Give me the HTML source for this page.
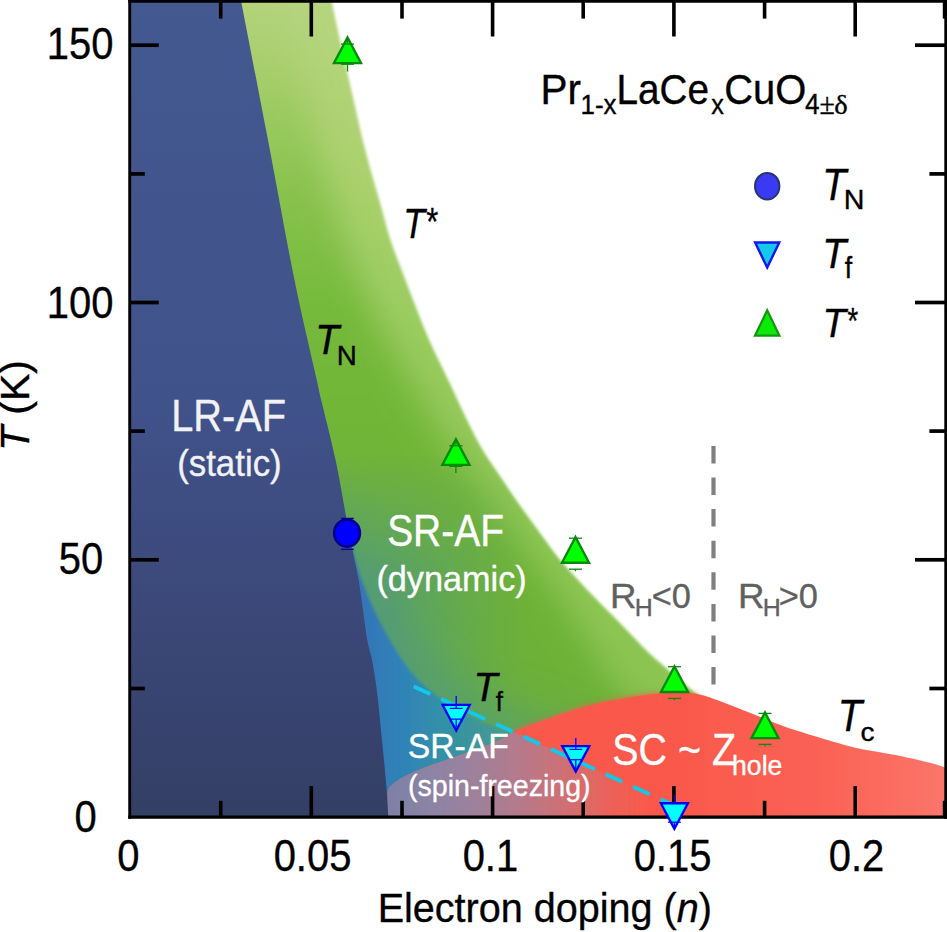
<!DOCTYPE html>
<html><head><meta charset="utf-8"><title>Phase diagram</title>
<style>
html,body{margin:0;padding:0;background:#fff;}
text{stroke-width:0.35px;paint-order:stroke fill;}
body{width:947px;height:932px;overflow:hidden;position:relative;font-family:"Liberation Sans",sans-serif;}
</style></head><body>
<svg width="947" height="932" viewBox="0 0 947 932" style="position:absolute;left:0;top:0" font-family="Liberation Sans, sans-serif">
<defs>
<clipPath id="plot"><rect x="129.9" y="1.3" width="815.9" height="815.8"/></clipPath>
<linearGradient id="gBlue" gradientUnits="userSpaceOnUse" x1="0" y1="0" x2="0" y2="817">
 <stop offset="0" stop-color="#43598f"/><stop offset="0.5" stop-color="#40528a"/><stop offset="0.74" stop-color="#3b4879"/><stop offset="1" stop-color="#343f65"/>
</linearGradient>
<linearGradient id="gGreenL" gradientUnits="userSpaceOnUse" x1="0" y1="0" x2="0" y2="817">
 <stop offset="0" stop-color="#b7d47e"/><stop offset="0.18" stop-color="#add271"/><stop offset="0.4" stop-color="#9bcc60"/><stop offset="0.6" stop-color="#90c756"/><stop offset="1" stop-color="#8ac450"/>
</linearGradient>
<linearGradient id="gCoreFade" gradientUnits="userSpaceOnUse" x1="0" y1="-20" x2="0" y2="320">
 <stop offset="0" stop-color="#fff" stop-opacity="0.03"/><stop offset="0.25" stop-color="#fff" stop-opacity="0.22"/><stop offset="0.6" stop-color="#fff" stop-opacity="0.68"/><stop offset="1" stop-color="#fff" stop-opacity="1"/>
</linearGradient>
<linearGradient id="gCore" gradientUnits="userSpaceOnUse" x1="0" y1="0" x2="0" y2="817">
 <stop offset="0" stop-color="#84c24a"/><stop offset="0.2" stop-color="#7cbd42"/><stop offset="0.4" stop-color="#74b83a"/><stop offset="0.7" stop-color="#6eb238"/><stop offset="1" stop-color="#6cb038"/>
</linearGradient>
<mask id="mCore" maskUnits="userSpaceOnUse" x="0" y="0" width="947" height="932"><rect x="0" y="0" width="947" height="932" fill="url(#gCoreFade)"/></mask>
<linearGradient id="gRed" gradientUnits="userSpaceOnUse" x1="388" y1="0" x2="650" y2="0">
 <stop offset="0.008" stop-color="#7d81a5"/><stop offset="0.160" stop-color="#8c83a5"/><stop offset="0.313" stop-color="#9c819c"/><stop offset="0.466" stop-color="#b07b8e"/><stop offset="0.618" stop-color="#c6737c"/><stop offset="0.752" stop-color="#dc6a68"/><stop offset="0.866" stop-color="#ee6056"/><stop offset="1.000" stop-color="#fa594b"/>
</linearGradient>
<linearGradient id="gRedR" gradientUnits="userSpaceOnUse" x1="680" y1="0" x2="947" y2="0">
 <stop offset="0" stop-color="#fff" stop-opacity="0"/><stop offset="0.5" stop-color="#fff" stop-opacity="0.05"/><stop offset="1" stop-color="#fff" stop-opacity="0.17"/>
</linearGradient>
<linearGradient id="gTeal" gradientUnits="userSpaceOnUse" x1="360" y1="0" x2="560" y2="0">
 <stop offset="0" stop-color="#3474b8"/><stop offset="0.2" stop-color="#2f82b8"/><stop offset="0.4" stop-color="#3090a8"/><stop offset="0.6" stop-color="#3e9698"/><stop offset="0.76" stop-color="#489b90" stop-opacity="0.92"/><stop offset="0.9" stop-color="#5aa470" stop-opacity="0.5"/><stop offset="1" stop-color="#6aaa4a" stop-opacity="0"/>
</linearGradient>
<filter id="b1" filterUnits="userSpaceOnUse" x="0" y="-20" width="967" height="972"><feGaussianBlur stdDeviation="0.7"/></filter>
<filter id="b3" filterUnits="userSpaceOnUse" x="0" y="-20" width="967" height="972"><feGaussianBlur stdDeviation="3"/></filter>
<filter id="b6" filterUnits="userSpaceOnUse" x="0" y="-20" width="967" height="972"><feGaussianBlur stdDeviation="6"/></filter>
<filter id="b10" filterUnits="userSpaceOnUse" x="0" y="-20" width="967" height="972"><feGaussianBlur stdDeviation="16"/></filter>
<filter id="b35" filterUnits="userSpaceOnUse" x="0" y="-20" width="967" height="972"><feGaussianBlur stdDeviation="35"/></filter>
<filter id="b15" filterUnits="userSpaceOnUse" x="0" y="-20" width="967" height="972"><feGaussianBlur stdDeviation="1.5"/></filter>
<filter id="b25" filterUnits="userSpaceOnUse" x="0" y="-20" width="967" height="972"><feGaussianBlur stdDeviation="22"/></filter>
<linearGradient id="gTintH" gradientUnits="userSpaceOnUse" x1="345" y1="0" x2="530" y2="0">
 <stop offset="0" stop-color="#4c9589" stop-opacity="0.74"/><stop offset="0.3" stop-color="#4c9589" stop-opacity="0.52"/><stop offset="0.57" stop-color="#4c9589" stop-opacity="0.3"/><stop offset="0.84" stop-color="#4c9589" stop-opacity="0.09"/><stop offset="1" stop-color="#4c9589" stop-opacity="0"/>
</linearGradient>
<linearGradient id="gTintV" gradientUnits="userSpaceOnUse" x1="0" y1="455" x2="0" y2="570">
 <stop offset="0" stop-color="#fff" stop-opacity="0"/><stop offset="1" stop-color="#fff" stop-opacity="1"/>
</linearGradient>
<mask id="mTint" maskUnits="userSpaceOnUse" x="0" y="0" width="947" height="932"><rect x="0" y="0" width="947" height="932" fill="url(#gTintV)"/></mask>
<linearGradient id="gGlowX" gradientUnits="userSpaceOnUse" x1="655" y1="0" x2="712" y2="0"><stop offset="0" stop-color="#fff" stop-opacity="1"/><stop offset="1" stop-color="#fff" stop-opacity="0"/></linearGradient>
<mask id="mGlow" maskUnits="userSpaceOnUse" x="0" y="0" width="947" height="932"><rect x="0" y="0" width="947" height="932" fill="url(#gGlowX)"/></mask>
<filter id="b16" filterUnits="userSpaceOnUse" x="0" y="-20" width="967" height="972"><feGaussianBlur stdDeviation="16"/></filter>
</defs>
<rect width="947" height="932" fill="#fff"/>
<g clip-path="url(#plot)">
<path d="M331.0,-2.0 C332.1,3.3 335.2,18.2 337.8,30.0 C340.4,41.8 343.8,56.8 346.5,69.0 C349.2,81.2 351.7,91.7 354.3,103.0 C356.9,114.3 359.2,125.5 362.0,137.0 C364.8,148.5 368.0,160.5 371.2,172.0 C374.4,183.5 377.8,194.7 381.0,206.0 C384.2,217.3 386.8,228.6 390.5,240.0 C394.2,251.4 399.0,262.9 403.3,274.3 C407.6,285.8 412.0,297.2 416.5,308.7 C421.0,320.1 425.2,331.1 430.5,343.0 C435.8,354.9 442.8,368.6 448.2,380.0 C453.6,391.4 458.2,401.7 463.0,411.7 C467.8,421.7 472.7,431.9 477.0,440.0 C481.3,448.1 484.7,453.3 489.0,460.0 C493.3,466.7 498.1,473.3 502.6,480.0 C507.1,486.7 511.4,493.3 516.0,500.0 C520.6,506.7 525.7,513.3 530.5,520.0 C535.3,526.7 540.1,533.3 545.0,540.0 C549.9,546.7 554.6,553.3 560.1,560.0 C565.6,566.7 571.9,573.3 578.0,580.0 C584.1,586.7 590.5,593.3 597.0,600.0 C603.5,606.7 608.8,611.7 617.0,620.0 C625.2,628.3 638.8,642.9 646.0,650.0 C653.2,657.1 654.3,657.8 660.0,662.8 C665.7,667.8 673.7,674.8 680.0,680.0 C686.3,685.2 689.3,689.0 697.6,694.3 C705.9,699.6 724.6,709.0 730.0,712.0 L780,740 L780,830 L130,830 L130,-5 Z" fill="url(#gGreenL)" filter="url(#b15)"/>
<clipPath id="cg"><path d="M331.0,-2.0 C332.1,3.3 335.2,18.2 337.8,30.0 C340.4,41.8 343.8,56.8 346.5,69.0 C349.2,81.2 351.7,91.7 354.3,103.0 C356.9,114.3 359.2,125.5 362.0,137.0 C364.8,148.5 368.0,160.5 371.2,172.0 C374.4,183.5 377.8,194.7 381.0,206.0 C384.2,217.3 386.8,228.6 390.5,240.0 C394.2,251.4 399.0,262.9 403.3,274.3 C407.6,285.8 412.0,297.2 416.5,308.7 C421.0,320.1 425.2,331.1 430.5,343.0 C435.8,354.9 442.8,368.6 448.2,380.0 C453.6,391.4 458.2,401.7 463.0,411.7 C467.8,421.7 472.7,431.9 477.0,440.0 C481.3,448.1 484.7,453.3 489.0,460.0 C493.3,466.7 498.1,473.3 502.6,480.0 C507.1,486.7 511.4,493.3 516.0,500.0 C520.6,506.7 525.7,513.3 530.5,520.0 C535.3,526.7 540.1,533.3 545.0,540.0 C549.9,546.7 554.6,553.3 560.1,560.0 C565.6,566.7 571.9,573.3 578.0,580.0 C584.1,586.7 590.5,593.3 597.0,600.0 C603.5,606.7 608.8,611.7 617.0,620.0 C625.2,628.3 638.8,642.9 646.0,650.0 C653.2,657.1 654.3,657.8 660.0,662.8 C665.7,667.8 673.7,674.8 680.0,680.0 C686.3,685.2 689.3,689.0 697.6,694.3 C705.9,699.6 724.6,709.0 730.0,712.0 L780,740 L780,830 L130,830 L130,-5 Z"/></clipPath>
<g clip-path="url(#cg)"><g mask="url(#mCore)"><path d="M285.0,-2.0 C286.1,3.3 289.2,18.2 291.8,30.0 C294.4,41.8 297.8,56.8 300.5,69.0 C303.2,81.2 305.7,91.7 308.3,103.0 C310.9,114.3 313.2,125.5 316.0,137.0 C318.8,148.5 322.0,160.5 325.2,172.0 C328.4,183.5 331.8,194.7 335.0,206.0 C338.2,217.3 340.8,228.6 344.5,240.0 C348.2,251.4 352.8,262.9 357.3,274.3 C361.8,285.8 366.1,297.2 371.3,308.7 C376.5,320.1 382.1,331.1 388.5,343.0 C394.9,354.9 403.2,368.6 409.7,380.0 C416.2,391.4 421.7,401.7 427.4,411.7 C433.2,421.7 439.0,431.9 444.1,440.0 C449.1,448.1 452.9,453.3 457.6,460.0 C462.4,466.7 467.5,473.3 472.5,480.0 C477.4,486.7 482.0,493.3 487.1,500.0 C492.2,506.7 497.6,513.3 502.8,520.0 C508.1,526.7 513.2,533.3 518.6,540.0 C523.9,546.7 530.0,553.3 534.9,560.0 C539.8,566.7 543.7,573.3 548.1,580.0 C552.6,586.7 556.8,593.3 561.4,600.0 C566.0,606.7 570.5,611.7 575.7,620.0 C581.0,628.3 588.7,642.9 592.9,650.0 C597.0,657.1 597.5,657.8 600.7,662.8 C604.0,667.8 608.7,674.8 612.6,680.0 C616.4,685.2 617.9,689.0 623.9,694.3 C629.9,699.6 644.4,709.0 648.5,712.0 L760,740 L760,830 L130,830 L130,-5 Z" fill="url(#gCore)" filter="url(#b10)"/></g></g>
<g clip-path="url(#cg)"><rect x="330" y="440" width="230" height="400" fill="url(#gTintH)" mask="url(#mTint)"/></g>
<g clip-path="url(#cg)"><path d="M361.5,580.0 C363.5,584.8 368.5,598.2 373.5,608.7 C378.5,619.2 384.5,631.6 391.5,643.0 C398.5,654.4 406.4,667.2 415.5,677.0 C424.6,686.8 435.1,694.7 446.0,702.0 C456.9,709.3 469.1,715.7 480.7,721.0 C492.3,726.3 502.3,729.5 515.5,734.0 C528.7,738.5 545.9,742.7 560.0,748.0 C574.1,753.3 593.3,763.0 600.0,766.0" fill="none" stroke="#4c9589" stroke-opacity="0.55" stroke-width="44" stroke-linecap="butt" filter="url(#b25)"/></g>
<path d="M348.5,530.0 C349.4,534.2 351.8,546.7 354.0,555.0 C356.2,563.3 358.2,571.0 361.5,580.0 C364.8,589.0 368.5,598.2 373.5,608.7 C378.5,619.2 384.5,631.6 391.5,643.0 C398.5,654.4 406.4,667.2 415.5,677.0 C424.6,686.8 435.1,694.7 446.0,702.0 C456.9,709.3 469.1,715.7 480.7,721.0 C492.3,726.3 502.3,729.5 515.5,734.0 C528.7,738.5 552.6,745.7 560.0,748.0 L560,830 L340,830 L340,535 Z" fill="url(#gTeal)" filter="url(#b15)"/>
<clipPath id="cDome"><path d="M386.9,820.0 C387.0,817.3 387.1,804.3 387.4,800.0 C387.7,795.7 387.1,791.0 389.0,788.0 C390.9,785.0 397.8,780.3 402.0,777.8 C406.2,775.3 414.4,771.6 420.3,769.2 C426.2,766.8 439.2,762.4 446.0,760.0 C452.8,757.6 464.6,753.5 471.4,751.0 C478.2,748.5 490.5,744.3 496.7,741.5 C502.9,738.7 511.6,732.9 518.0,730.0 C524.4,727.1 537.7,722.6 545.0,720.0 C552.3,717.4 565.7,712.8 573.0,710.5 C580.3,708.2 591.5,704.9 600.0,703.0 C608.5,701.1 627.9,697.6 636.6,696.3 C645.3,695.0 657.9,693.4 665.0,693.0 C672.1,692.6 684.0,692.4 690.0,693.0 C696.0,693.6 702.5,695.0 710.0,697.5 C717.5,700.0 736.9,707.7 746.6,711.5 C756.3,715.3 773.2,722.5 783.0,726.0 C792.8,729.5 810.2,734.8 820.0,737.7 C829.8,740.6 845.8,745.6 856.5,748.0 C867.2,750.4 890.2,753.9 900.0,755.9 C909.8,757.9 923.6,761.1 930.0,762.8 C936.4,764.5 945.6,767.7 948.0,768.5 L948,830 L386,830 Z"/></clipPath>
<clipPath id="cTf"><polygon points="380,671.0 700,817.2 700,830 380,830"/></clipPath>
<clipPath id="cTfAbove"><polygon points="480,716.7 760,844.7 760,600 480,600"/></clipPath>
<g clip-path="url(#cTfAbove)" mask="url(#mGlow)"><path d="M386.9,820.0 C387.0,817.3 387.1,804.3 387.4,800.0 C387.7,795.7 387.1,791.0 389.0,788.0 C390.9,785.0 397.8,780.3 402.0,777.8 C406.2,775.3 414.4,771.6 420.3,769.2 C426.2,766.8 439.2,762.4 446.0,760.0 C452.8,757.6 464.6,753.5 471.4,751.0 C478.2,748.5 490.5,744.3 496.7,741.5 C502.9,738.7 511.6,732.9 518.0,730.0 C524.4,727.1 537.7,722.6 545.0,720.0 C552.3,717.4 565.7,712.8 573.0,710.5 C580.3,708.2 591.5,704.9 600.0,703.0 C608.5,701.1 627.9,697.6 636.6,696.3 C645.3,695.0 657.9,693.4 665.0,693.0 C672.1,692.6 684.0,692.4 690.0,693.0 C696.0,693.6 702.5,695.0 710.0,697.5 C717.5,700.0 736.9,707.7 746.6,711.5 C756.3,715.3 773.2,722.5 783.0,726.0 C792.8,729.5 810.2,734.8 820.0,737.7 C829.8,740.6 845.8,745.6 856.5,748.0 C867.2,750.4 890.2,753.9 900.0,755.9 C909.8,757.9 923.6,761.1 930.0,762.8 C936.4,764.5 945.6,767.7 948.0,768.5 L948,830 L386,830 Z" fill="#fa594b" opacity="0.9" filter="url(#b3)"/></g>
<g filter="url(#b1)"><path d="M386.9,820.0 C387.0,817.3 387.1,804.3 387.4,800.0 C387.7,795.7 387.1,791.0 389.0,788.0 C390.9,785.0 397.8,780.3 402.0,777.8 C406.2,775.3 414.4,771.6 420.3,769.2 C426.2,766.8 439.2,762.4 446.0,760.0 C452.8,757.6 464.6,753.5 471.4,751.0 C478.2,748.5 490.5,744.3 496.7,741.5 C502.9,738.7 511.6,732.9 518.0,730.0 C524.4,727.1 537.7,722.6 545.0,720.0 C552.3,717.4 565.7,712.8 573.0,710.5 C580.3,708.2 591.5,704.9 600.0,703.0 C608.5,701.1 627.9,697.6 636.6,696.3 C645.3,695.0 657.9,693.4 665.0,693.0 C672.1,692.6 684.0,692.4 690.0,693.0 C696.0,693.6 702.5,695.0 710.0,697.5 C717.5,700.0 736.9,707.7 746.6,711.5 C756.3,715.3 773.2,722.5 783.0,726.0 C792.8,729.5 810.2,734.8 820.0,737.7 C829.8,740.6 845.8,745.6 856.5,748.0 C867.2,750.4 890.2,753.9 900.0,755.9 C909.8,757.9 923.6,761.1 930.0,762.8 C936.4,764.5 945.6,767.7 948.0,768.5 L948,830 L386,830 Z" fill="#fa594b"/><path d="M386.9,820.0 C387.0,817.3 387.1,804.3 387.4,800.0 C387.7,795.7 387.1,791.0 389.0,788.0 C390.9,785.0 397.8,780.3 402.0,777.8 C406.2,775.3 414.4,771.6 420.3,769.2 C426.2,766.8 439.2,762.4 446.0,760.0 C452.8,757.6 464.6,753.5 471.4,751.0 C478.2,748.5 490.5,744.3 496.7,741.5 C502.9,738.7 511.6,732.9 518.0,730.0 C524.4,727.1 537.7,722.6 545.0,720.0 C552.3,717.4 565.7,712.8 573.0,710.5 C580.3,708.2 591.5,704.9 600.0,703.0 C608.5,701.1 627.9,697.6 636.6,696.3 C645.3,695.0 657.9,693.4 665.0,693.0 C672.1,692.6 684.0,692.4 690.0,693.0 C696.0,693.6 702.5,695.0 710.0,697.5 C717.5,700.0 736.9,707.7 746.6,711.5 C756.3,715.3 773.2,722.5 783.0,726.0 C792.8,729.5 810.2,734.8 820.0,737.7 C829.8,740.6 845.8,745.6 856.5,748.0 C867.2,750.4 890.2,753.9 900.0,755.9 C909.8,757.9 923.6,761.1 930.0,762.8 C936.4,764.5 945.6,767.7 948.0,768.5 L948,830 L386,830 Z" fill="url(#gRedR)"/></g>
<g clip-path="url(#cDome)"><g clip-path="url(#cTf)"><rect x="380" y="600" width="330" height="230" fill="url(#gRed)" filter="url(#b15)"/></g></g>
<path d="M240.5,-2.0 C245.1,21.7 259.0,93.0 268.0,140.0 C277.0,187.0 286.4,240.2 294.5,280.0 C302.6,319.8 312.1,358.7 316.5,378.7 C320.9,398.7 318.0,386.4 321.2,400.0 C324.4,413.6 331.4,440.0 335.6,460.0 C339.9,480.0 343.9,505.0 346.7,520.0 C349.5,535.0 350.5,540.0 352.5,550.0 C354.5,560.0 356.9,570.0 358.7,580.0 C360.4,590.0 361.6,600.0 363.0,610.0 C364.4,620.0 365.8,631.7 367.3,640.0 C368.8,648.3 370.4,651.7 372.0,660.0 C373.6,668.3 375.1,676.7 376.8,690.0 C378.5,703.3 380.4,723.7 382.0,740.0 C383.6,756.3 385.4,774.7 386.5,788.0 C387.6,801.3 388.2,814.7 388.5,820.0 L120,830 L120,-5 Z" fill="url(#gBlue)"/>
<line x1="413.7" y1="686.4" x2="671" y2="804" stroke="#10c9ec" stroke-width="3.9" stroke-dasharray="18.3 11.85"/>
</g>
<line x1="713.5" y1="445.9" x2="713.5" y2="686" stroke="#808080" stroke-width="4.2" stroke-dasharray="17.5 14.1"/>
<g stroke="#000" fill="none">
<line x1="129.7" y1="0" x2="129.7" y2="818.8" stroke-width="2.9"/>
<line x1="945.8" y1="0" x2="945.8" y2="818.8" stroke-width="3.0"/>
<line x1="128.3" y1="1.2" x2="947" y2="1.2" stroke-width="3.2"/>
<line x1="128.3" y1="817.1" x2="947" y2="817.1" stroke-width="3.4"/>
</g>
<g stroke="#000" stroke-width="3.6">
<line x1="944.6" y1="800.8" x2="944.6" y2="817.1"/><line x1="944.6" y1="1.2" x2="944.6" y2="18.6"/>
<line x1="220.7" y1="800.8" x2="220.7" y2="817.1"/>
<line x1="220.7" y1="1.2" x2="220.7" y2="18.6"/>
<line x1="311.3" y1="786.1" x2="311.3" y2="817.1"/>
<line x1="311.3" y1="1.2" x2="311.3" y2="36.5"/>
<line x1="402.0" y1="800.8" x2="402.0" y2="817.1"/>
<line x1="402.0" y1="1.2" x2="402.0" y2="18.6"/>
<line x1="492.6" y1="786.1" x2="492.6" y2="817.1"/>
<line x1="492.6" y1="1.2" x2="492.6" y2="36.5"/>
<line x1="583.2" y1="800.8" x2="583.2" y2="817.1"/>
<line x1="583.2" y1="1.2" x2="583.2" y2="18.6"/>
<line x1="673.9" y1="786.1" x2="673.9" y2="817.1"/>
<line x1="673.9" y1="1.2" x2="673.9" y2="36.5"/>
<line x1="764.6" y1="800.8" x2="764.6" y2="817.1"/>
<line x1="764.6" y1="1.2" x2="764.6" y2="18.6"/>
<line x1="855.2" y1="786.1" x2="855.2" y2="817.1"/>
<line x1="855.2" y1="1.2" x2="855.2" y2="36.5"/>
</g><g stroke="#000" stroke-width="3.7">
<line x1="129.7" y1="688.5" x2="144.8" y2="688.5"/>
<line x1="929.4" y1="688.5" x2="945.7" y2="688.5"/>
<line x1="129.7" y1="559.8" x2="158.8" y2="559.8"/>
<line x1="915.0" y1="559.8" x2="945.7" y2="559.8"/>
<line x1="129.7" y1="431.1" x2="144.8" y2="431.1"/>
<line x1="929.4" y1="431.1" x2="945.7" y2="431.1"/>
<line x1="129.7" y1="302.5" x2="158.8" y2="302.5"/>
<line x1="915.0" y1="302.5" x2="945.7" y2="302.5"/>
<line x1="129.7" y1="173.9" x2="144.8" y2="173.9"/>
<line x1="929.4" y1="173.9" x2="945.7" y2="173.9"/>
<line x1="129.7" y1="45.2" x2="158.8" y2="45.2"/>
<line x1="915.0" y1="45.2" x2="945.7" y2="45.2"/>
</g>
<text transform="translate(117.14,870.74) scale(0.8880,1)" font-size="45.00" fill="#000" stroke="#000">0</text>
<text transform="translate(273.64,870.74) scale(0.8880,1)" font-size="45.00" fill="#000" stroke="#000">0.05</text>
<text transform="translate(462.64,870.74) scale(0.8880,1)" font-size="45.00" fill="#000" stroke="#000">0.1</text>
<text transform="translate(633.64,870.74) scale(0.8880,1)" font-size="45.00" fill="#000" stroke="#000">0.15</text>
<text transform="translate(828.74,870.74) scale(0.8880,1)" font-size="45.00" fill="#000" stroke="#000">0.2</text>
<text transform="translate(46.69,59.14) scale(0.8880,1)" font-size="45.00" fill="#000" stroke="#000">150</text>
<text transform="translate(46.79,317.54) scale(0.8880,1)" font-size="45.00" fill="#000" stroke="#000">100</text>
<text transform="translate(58.70,573.54) scale(0.8880,1)" font-size="45.00" fill="#000" stroke="#000">50</text>
<text transform="translate(74.54,831.89) scale(0.8880,1)" font-size="45.00" fill="#000" stroke="#000">0</text>
<text transform="translate(377.65,921.80) scale(0.9650,1)" font-size="41.00" fill="#000" stroke="#000">Electron doping (</text>
<text transform="translate(676.77,921.80) scale(0.9650,1)" font-size="41.00" font-style="italic" fill="#000" stroke="#000">n</text>
<text transform="translate(698.77,921.80) scale(0.9650,1)" font-size="41.00" fill="#000" stroke="#000">)</text>
<g transform="translate(28.6,447.4) rotate(-90)">
<text transform="translate(-3.68,0.00) scale(1.0000,1)" font-size="41.00" font-style="italic" fill="#000" stroke="#000">T</text>
<text transform="translate(32.75,0.00) scale(1.0000,1)" font-size="41.00" fill="#000" stroke="#000">(K)</text>
</g>
<g stroke="#068a0a" fill="none"><polygon points="347.50,37.51 333.95,63.12 361.05,63.12" fill="#00ff00" stroke-width="2.35" stroke-linejoin="miter"/><line x1="341.0" y1="44.1" x2="354.0" y2="44.1" stroke-width="1.3"/><line x1="341.0" y1="64.2" x2="354.0" y2="64.2" stroke-width="1.3"/><line x1="347.5" y1="38.5" x2="347.5" y2="44.1" stroke-width="1.3"/><line x1="347.5" y1="64" x2="347.5" y2="71.5" stroke-width="1.3"/></g>
<g stroke="#068a0a" fill="none"><polygon points="455.90,439.31 442.35,464.93 469.45,464.93" fill="#00ff00" stroke-width="2.35" stroke-linejoin="miter"/><line x1="449.2" y1="445.8" x2="462.59999999999997" y2="445.8" stroke-width="1.3"/><line x1="449.2" y1="466.3" x2="462.59999999999997" y2="466.3" stroke-width="1.3"/><line x1="455.9" y1="440.3" x2="455.9" y2="445.8" stroke-width="1.3"/><line x1="455.9" y1="466" x2="455.9" y2="473.1" stroke-width="1.3"/></g>
<g stroke="#068a0a" fill="none"><polygon points="575.50,537.11 561.95,562.73 589.05,562.73" fill="#00ff00" stroke-width="2.35" stroke-linejoin="miter"/><line x1="569.0" y1="538.2" x2="582.0" y2="538.2" stroke-width="1.3"/><line x1="569.0" y1="569.2" x2="582.0" y2="569.2" stroke-width="1.3"/><line x1="575.5" y1="569.2" x2="575.5" y2="571.2" stroke-width="1.3"/></g>
<g stroke="#068a0a" fill="none"><polygon points="674.50,666.41 660.95,692.02 688.05,692.02" fill="#00ff00" stroke-width="2.35" stroke-linejoin="miter"/><line x1="668.0" y1="666.7" x2="681.0" y2="666.7" stroke-width="1.3"/><line x1="668.0" y1="698.4" x2="681.0" y2="698.4" stroke-width="1.3"/><line x1="674.5" y1="698.4" x2="674.5" y2="700.2" stroke-width="1.3"/></g>
<g stroke="#068a0a" fill="none"><polygon points="765.00,712.51 751.45,738.12 778.55,738.12" fill="#00ff00" stroke-width="2.35" stroke-linejoin="miter"/><line x1="758.5" y1="713.4" x2="771.5" y2="713.4" stroke-width="1.3"/><line x1="758.5" y1="744.4" x2="771.5" y2="744.4" stroke-width="1.3"/><line x1="765.0" y1="744.4" x2="765.0" y2="746.2" stroke-width="1.3"/></g>
<g stroke="#0000ff" fill="none"><polygon points="456.20,730.54 442.66,704.95 469.74,704.95" fill="#00ffff" stroke-width="2.3" stroke-linejoin="miter"/><line x1="449.7" y1="708.4" x2="462.7" y2="708.4" stroke-width="1.2"/><line x1="451.0" y1="719.1" x2="461.4" y2="719.1" stroke-width="1.2"/><line x1="456.2" y1="696.1" x2="456.2" y2="708.4" stroke-width="1.3"/><line x1="456.2" y1="719.1" x2="456.2" y2="727.5" stroke-width="1.3"/></g>
<g stroke="#0000ff" fill="none"><polygon points="575.80,771.64 562.26,746.05 589.34,746.05" fill="#00ffff" stroke-width="2.3" stroke-linejoin="miter"/><line x1="569.4" y1="749.4" x2="582.1999999999999" y2="749.4" stroke-width="1.2"/><line x1="570.5999999999999" y1="759.7" x2="581.0" y2="759.7" stroke-width="1.2"/><line x1="575.8" y1="738.1" x2="575.8" y2="749.4" stroke-width="1.3"/><line x1="575.8" y1="759.7" x2="575.8" y2="769" stroke-width="1.3"/></g>
<g stroke="#0000ff" fill="none"><polygon points="674.40,828.84 660.86,803.25 687.94,803.25" fill="#00ffff" stroke-width="2.3" stroke-linejoin="miter"/><line x1="667.9" y1="822.2" x2="680.9" y2="822.2" stroke-width="1.2"/><line x1="674.4" y1="794.8" x2="674.4" y2="803" stroke-width="1.3"/><line x1="674.4" y1="822.2" x2="674.4" y2="826" stroke-width="1.3"/></g>
<g stroke="#00008c" stroke-width="1.3"><line x1="341.2" y1="518.4" x2="353.8" y2="518.4"/><line x1="341.2" y1="549.3" x2="353.8" y2="549.3"/></g>
<ellipse cx="347.05" cy="533.1" rx="12.85" ry="13.6" fill="#0000ff" stroke="#00008c" stroke-width="2.6"/>
<ellipse cx="767.2" cy="186.2" rx="12.2" ry="13.3" fill="#3a3af4" stroke="#26366e" stroke-width="2"/>
<g stroke="#1414f0" fill="none"><polygon points="767.20,267.54 755.11,242.50 779.29,242.50" fill="#14c8ec" stroke-width="2.4" stroke-linejoin="miter"/></g>
<g stroke="#149614" fill="none"><polygon points="767.20,310.33 754.95,335.70 779.45,335.70" fill="#0ceb08" stroke-width="2.2" stroke-linejoin="miter"/></g>
<text transform="translate(540.58,103.60) scale(0.9734,1)" font-size="41.60" fill="#000" stroke="#000">Pr</text>
<text transform="translate(580.52,113.50) scale(0.9438,1)" font-size="27.50" fill="#000" stroke="#000">1-x</text>
<text transform="translate(616.43,103.69) scale(0.9300,1)" font-size="41.60" fill="#000" stroke="#000">LaCe</text>
<text transform="translate(711.32,113.50) scale(0.9204,1)" font-size="27.50" fill="#000" stroke="#000">x</text>
<text transform="translate(724.27,104.09) scale(0.9603,1)" font-size="41.60" fill="#000" stroke="#000">CuO</text>
<text transform="translate(804.90,114.10) scale(0.9102,1)" font-size="28.78" fill="#000" stroke="#000">4</text>
<text transform="translate(819.44,114.10) scale(0.9339,1)" font-size="29.91" font-family="Liberation Serif" fill="#000" stroke="#000">±</text>
<text transform="translate(834.23,114.04) scale(1.0530,1)" font-size="27.10" font-family="Liberation Serif" fill="#000" stroke="#000">δ</text>
<text transform="translate(822.37,200.10) scale(0.9044,1)" font-size="43.46" font-style="italic" fill="#000" stroke="#000">T</text>
<text transform="translate(843.65,209.30) scale(1.0652,1)" font-size="26.89" fill="#000" stroke="#000">N</text>
<text transform="translate(822.37,268.30) scale(0.9198,1)" font-size="42.73" font-style="italic" fill="#000" stroke="#000">T</text>
<text transform="translate(844.82,278.00) scale(0.9361,1)" font-size="28.61" fill="#000" stroke="#000">f</text>
<text transform="translate(822.46,336.80) scale(0.9206,1)" font-size="41.57" font-style="italic" fill="#000" stroke="#000">T</text>
<text transform="translate(846.18,334.07) scale(0.7367,1)" font-size="37.60" font-style="italic" fill="#000" stroke="#000">*</text>
<text transform="translate(403.21,237.90) scale(0.8367,1)" font-size="42.44" font-style="italic" fill="#000" stroke="#000">T</text>
<text transform="translate(425.00,235.16) scale(0.8003,1)" font-size="38.45" font-style="italic" fill="#000" stroke="#000">*</text>
<text transform="translate(315.18,353.70) scale(0.9348,1)" font-size="41.86" font-style="italic" fill="#000" stroke="#000">T</text>
<text transform="translate(336.82,364.50) scale(0.9943,1)" font-size="27.91" fill="#000" stroke="#000">N</text>
<text transform="translate(473.57,701.40) scale(0.9589,1)" font-size="40.99" font-style="italic" fill="#000" stroke="#000">T</text>
<text transform="translate(495.73,711.20) scale(0.9142,1)" font-size="28.47" fill="#000" stroke="#000">f</text>
<text transform="translate(837.72,731.20) scale(0.9132,1)" font-size="43.61" font-style="italic" fill="#000" stroke="#000">T</text>
<text transform="translate(860.41,741.04) scale(1.0531,1)" font-size="26.65" fill="#000" stroke="#000">c</text>
<text transform="translate(171.14,431.40) scale(0.9005,1)" font-size="44.19" fill="#f2f2f5" stroke="#f2f2f5">LR-AF</text>
<text transform="translate(177.14,475.94) scale(0.9556,1)" font-size="36.49" fill="#f2f2f5" stroke="#f2f2f5">(static)</text>
<text transform="translate(387.13,546.27) scale(0.8761,1)" font-size="44.49" fill="#fff" stroke="#fff">SR-AF</text>
<text transform="translate(376.38,590.96) scale(0.9559,1)" font-size="35.83" fill="#fff" stroke="#fff">(dynamic)</text>
<text transform="translate(407.67,757.95) scale(0.9411,1)" font-size="35.88" fill="#fff" stroke="#fff">SR-AF</text>
<text transform="translate(407.93,795.77) scale(0.9835,1)" font-size="29.07" fill="#fff" stroke="#fff">(spin-freezing)</text>
<text transform="translate(612.31,764.57) scale(0.8857,1)" font-size="44.49" fill="#fff" stroke="#fff">SC ~ Z</text>
<text transform="translate(732.05,774.64) scale(0.9923,1)" font-size="26.83" fill="#fff" stroke="#fff">hole</text>
<text transform="translate(609.99,607.80) scale(1.0569,1)" font-size="34.74" fill="#606060" stroke="#606060">R</text>
<text transform="translate(634.66,616.40) scale(1.0376,1)" font-size="23.98" fill="#606060" stroke="#606060">H</text>
<text transform="translate(651.70,607.86) scale(0.9906,1)" font-size="34.75" fill="#606060" stroke="#606060">&lt;0</text>
<text transform="translate(737.99,607.80) scale(1.0569,1)" font-size="34.74" fill="#606060" stroke="#606060">R</text>
<text transform="translate(762.66,616.40) scale(1.0376,1)" font-size="23.98" fill="#606060" stroke="#606060">H</text>
<text transform="translate(778.70,607.86) scale(0.9906,1)" font-size="34.75" fill="#606060" stroke="#606060">&gt;0</text>
</svg>
</body></html>
